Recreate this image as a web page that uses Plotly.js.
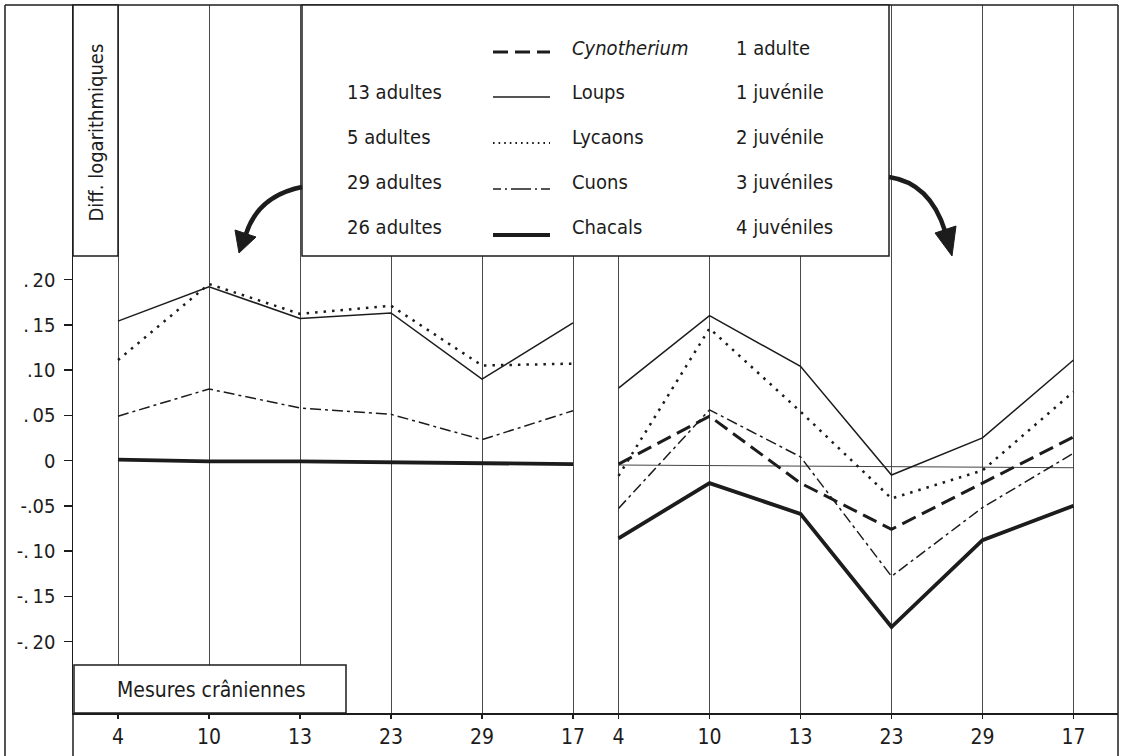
<!DOCTYPE html>
<html>
<head>
<meta charset="utf-8">
<script src="https://cdn.plot.ly/plotly-3.0.1.min.js"></script>
<style>
  html, body { margin: 0; padding: 0; background: #fff; }
  #chart { width: 1122px; height: 756px; }
</style>
</head>
<body>
<div id="chart"></div>
<script>
// ---------------- DATA ----------------
const measures = ["4", "10", "13", "23", "29", "17"];
const yTickVals = [-0.20, -0.15, -0.10, -0.05, 0, 0.05, 0.10, 0.15, 0.20];
const yTickText = ["-.\u200920", "-.\u200915", "-.\u200910", "-.05", "0", ".\u200905", ".10", ".\u200915", ".\u200920"];

// Adults (left panel)
const loupsAdultes   = [0.154, 0.192, 0.157, 0.163, 0.090, 0.152];
const lycaonsAdultes = [0.111, 0.195, 0.162, 0.171, 0.105, 0.107];
const cuonsAdultes   = [0.049, 0.079, 0.058, 0.051, 0.023, 0.055];
const chacalsAdultes = [0.001, -0.001, -0.001, -0.002, -0.003, -0.004];

// Juveniles + Cynotherium (right panel)
const cynotherium    = [-0.004, 0.049, -0.025, -0.076, -0.025, 0.026];
const loupsJuv       = [0.080, 0.160, 0.104, -0.016, 0.025, 0.111];
const lycaonsJuv     = [-0.017, 0.146, 0.054, -0.042, -0.011, 0.076];
const cuonsJuv       = [-0.053, 0.056, 0.004, -0.128, -0.052, 0.008];
const chacalsJuv     = [-0.086, -0.025, -0.059, -0.184, -0.088, -0.050];
const refJuv         = [-0.005, -0.008];   // reference line, first to last measure

// Legend texts
const legendCounts   = ["", "13 adultes", "5 adultes", "29 adultes", "26 adultes"];
const legendNames    = ["<i>Cynotherium</i>", "Loups", "Lycaons", "Cuons", "Chacals"];
const legendJuvs     = ["1 adulte", "1 juvénile", "2 juvénile", "3 juvéniles", "4 juvéniles"];

// ---------------- LAYOUT HELPERS ----------------
const W = 1122, H = 756;
const PL = 73, PR = 1118, PT = 5, PB = 713;
const GAP = 0.5;
const xLeft  = measures.map((_, i) => i);
const xRight = measures.map((_, i) => i + (measures.length - 1) + GAP);

const px = v => (v - PL) / (PR - PL);
const py = v => (PB - v) / (PB - PT);
const FONT = "DejaVu Sans Condensed, DejaVu Sans, sans-serif";
const INK = "#1c1c1c";

const styles = {
  loups:   {color: INK, width: 1.5, dash: "solid"},
  lycaons: {color: INK, width: 2.5, dash: "2.5px,6px"},
  cuons:   {color: INK, width: 1.5, dash: "11px,4px,3px,4px"},
  chacals: {color: INK, width: 3.8, dash: "solid"},
  cyno:    {color: INK, width: 3,   dash: "15px,7px"}
};

function tr(x, y, st, name) {
  return {x: x, y: y, type: "scatter", mode: "lines", line: st, name: name,
          hoverinfo: "skip", showlegend: false};
}

const traces = [
  tr(xLeft, loupsAdultes, styles.loups, "Loups adultes"),
  tr(xLeft, lycaonsAdultes, styles.lycaons, "Lycaons adultes"),
  tr(xLeft, cuonsAdultes, styles.cuons, "Cuons adultes"),
  tr(xLeft, chacalsAdultes, styles.chacals, "Chacals adultes"),
  tr([xRight[0], xRight[xRight.length - 1]], refJuv, {color: "#444", width: 1}, "ref"),
  tr(xRight, loupsJuv, styles.loups, "Loups juvéniles"),
  tr(xRight, lycaonsJuv, styles.lycaons, "Lycaons juvéniles"),
  tr(xRight, cuonsJuv, styles.cuons, "Cuons juvéniles"),
  tr(xRight, chacalsJuv, styles.chacals, "Chacals juvéniles"),
  tr(xRight, cynotherium, styles.cyno, "Cynotherium")
];

// x range so that measure spacing is 91px and first tick at 118px
const unit = 91, x0px = 118;
const xRange = [(PL - x0px) / unit, (PR - x0px) / unit];
const vpp = 905; // px per unit of y
const y0px = 460.5;
const yRange = [(y0px - PB) / vpp, (y0px - PT) / vpp];

const shapes = [];
function lineShape(x1, y1, x2, y2, w, dash, color) {
  shapes.push({type: "line", xref: "paper", yref: "paper", layer: "above",
    x0: px(x1), y0: py(y1), x1: px(x2), y1: py(y2),
    line: {color: color || INK, width: w, dash: dash || "solid"}});
}
function rectShape(x1, y1, x2, y2, w) {
  shapes.push({type: "rect", xref: "paper", yref: "paper", layer: "above",
    x0: px(x1), y0: py(y2), x1: px(x2), y1: py(y1),
    fillcolor: "#ffffff", line: {color: INK, width: w}});
}
function pathShape(pts, fill, w) {
  const d = pts.map(p => (p[0] + " " + px(p[1]) + "," + py(p[2]))).join(" ");
  shapes.push({type: "path", xref: "paper", yref: "paper", layer: "above", path: d,
    fillcolor: fill || "rgba(0,0,0,0)", line: {color: INK, width: w}});
}

// outer frame
lineShape(5, 5, PR, 5, 1.5);
lineShape(5, 5, 5, H, 1.5);
lineShape(PR, 5, PR, H, 1.5);
lineShape(PL, PB, PL, H, 1.5);

// boxes
rectShape(PL, 5, 118, 256, 1.5);     // y-title box
rectShape(302, 5, 889, 256, 1.5);    // legend box
rectShape(74, 665, 346, 713, 1.5);   // x-title box

// legend samples
const rowY = [48, 92, 137, 182, 227];
const sampleKeys = ["cyno", "loups", "lycaons", "cuons", "chacals"];
const sampleDash = ["15px,7px", "solid", "1.6px,4px", "8px,4px,2px,4px,20px,4px,2px,4px,15px", "solid"];
const sampleW = [3, 1.5, 1.8, 1.5, 3.8];
const sampleOff = [4, 5, 6, 7, 8];
sampleKeys.forEach((k, i) => {
  lineShape(493, rowY[i] + sampleOff[i], 550, rowY[i] + sampleOff[i], sampleW[i], sampleDash[i]);
});

// arrows
pathShape([["M", 302, 187], ["Q", 258, 196], ["", 246, 234]], null, 4.5);
pathShape([["M", 239, 253], ["L", 256, 237], ["L", 235, 230], ["Z", 239, 253]], INK, 1);
pathShape([["M", 889, 177], ["Q", 930, 183], ["", 945, 231]], null, 4.5);
pathShape([["M", 952, 256], ["L", 956, 226], ["L", 935, 233], ["Z", 952, 256]], INK, 1);

// annotations
const annotations = [];
function txt(x, y, t, size, anchor, extra) {
  annotations.push(Object.assign({xref: "paper", yref: "paper", x: px(x), y: py(y),
    text: t, showarrow: false, xanchor: anchor || "left", yanchor: "middle",
    font: {family: FONT, size: size, color: INK}}, extra || {}));
}
for (let i = 0; i < 5; i++) {
  if (legendCounts[i]) txt(345, rowY[i], legendCounts[i], 20);
  txt(570, rowY[i], legendNames[i], 20);
  txt(734, rowY[i], legendJuvs[i], 20);
}
txt(95.5, 133, "Diff. logarithmiques", 20, "center", {textangle: -90});
txt(211, 690, "Mesures crâniennes", 21, "center");

const layout = {
  width: W, height: H,
  margin: {l: PL, r: W - PR, t: PT, b: H - PB, pad: 0},
  paper_bgcolor: "#ffffff", plot_bgcolor: "#ffffff",
  showlegend: false,
  xaxis: {
    range: xRange, tickmode: "array",
    tickvals: xLeft.concat(xRight), ticktext: measures.concat(measures),
    showgrid: true, gridcolor: "#4a4a4a", gridwidth: 1,
    zeroline: false, showline: true, linecolor: INK, linewidth: 2,
    ticks: "outside", ticklen: 4, tickwidth: 1.5, tickcolor: INK,
    tickfont: {family: FONT, size: 21, color: INK}, fixedrange: true
  },
  yaxis: {
    range: yRange, tickmode: "array", tickvals: yTickVals, ticktext: yTickText,
    showgrid: false, zeroline: false, showline: true, linecolor: INK, linewidth: 1.5,
    ticks: "outside", ticklen: 8, tickwidth: 1.5, tickcolor: INK,
    ticklabelstandoff: 4,
    tickfont: {family: FONT, size: 20, color: INK}, fixedrange: true
  },
  shapes: shapes,
  annotations: annotations
};

Plotly.newPlot("chart", traces, layout, {displayModeBar: false, staticPlot: true});
</script>
</body>
</html>
